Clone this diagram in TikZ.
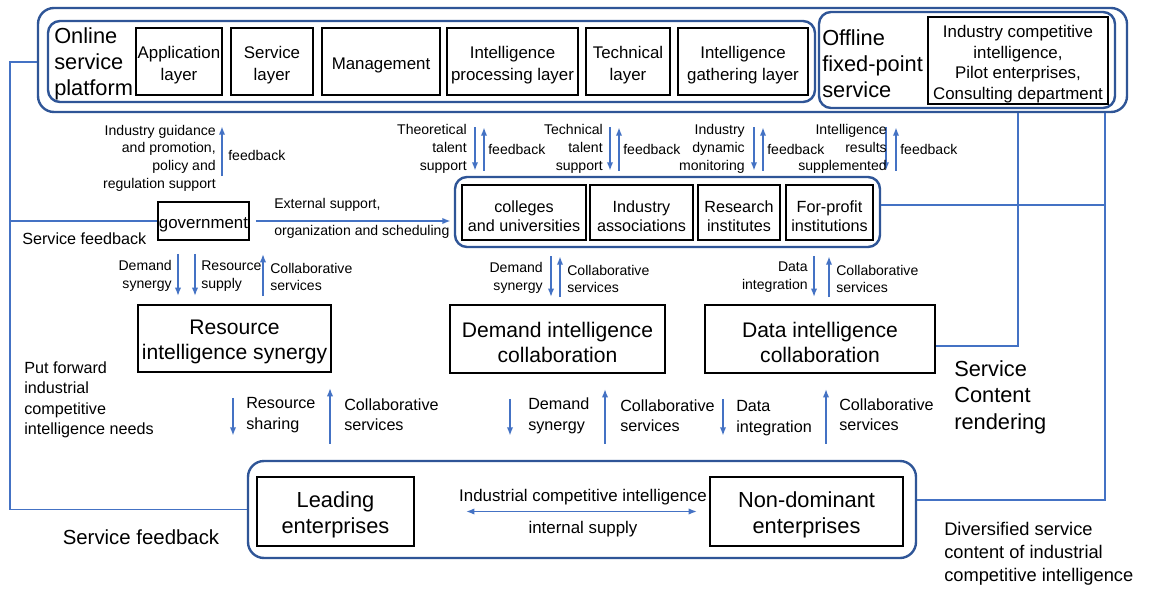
\documentclass[tikz,border=0pt]{standalone}
\usepackage{fontspec}
\setmainfont{Liberation Sans}
\usetikzlibrary{arrows.meta,fit,calc}
\definecolor{grpblue}{RGB}{47,85,151}
\definecolor{lineblue}{RGB}{68,114,196}
\newcommand\myfs[2]{\fontsize{#1}{#2}\selectfont}

\begin{document}
\begin{tikzpicture}[x=0.025cm,y=-0.025cm,
  blk/.style={draw=black,line width=1.3pt,inner sep=0pt},
  grp/.style={draw=grpblue,line width=1.7pt,rounded corners=#1,inner sep=0pt},
  grp/.default=0.3cm,
  btxt/.style={inner sep=0pt,align=center,yshift=-0.09cm,font=\myfs{12}{15}},
  conn/.style={draw=lineblue,line width=1.2pt},
  arr/.style={conn,-{Latex[length=6pt,width=4.5pt]}},
  dbl/.style={conn,{Latex[length=6pt,width=4.5pt]}-{Latex[length=6pt,width=4.5pt]}},
  small/.style={inner sep=0pt,font=\myfs{10}{12.6}},
  mid/.style={inner sep=0pt,font=\myfs{11.5}{14.5}},
  big/.style={inner sep=0pt,font=\myfs{15.5}{18.6}},
  ltxt/.style={anchor=east,align=right},
  rtxt/.style={anchor=west,align=left},
]
\fill[white] (0,0) rectangle (1152,590);
\useasboundingbox (0,0) rectangle (1152,590);

% ---------- service platforms ----------
\node[grp=0.4cm, fit={(38,8)(1127,112)}] (outer) {};
\node[grp, fit={(48,21)(815,102)}] (online) {};
\node[big, rtxt] (onlinet) at (54,64) {Online\\service\\platform};
\node[blk, fit={(136,28)(222,95)}] (app) {};
\node[btxt] at (app.center) {Application\\layer};
\node[blk, fit={(231,28)(313,95)}] (svc) {};
\node[btxt] at (svc.center) {Service\\layer};
\node[blk, fit={(322,28)(440,95)}] (mgmt) {};
\node[btxt] at (mgmt.center) {Management};
\node[blk, fit={(447,28)(578,95)}] (proc) {};
\node[btxt] at (proc.center) {Intelligence\\processing layer};
\node[blk, fit={(586,28)(670,95)}] (tech) {};
\node[btxt] at (tech.center) {Technical\\layer};
\node[blk, fit={(678,28)(808,95)}] (gath) {};
\node[btxt] at (gath.center) {Intelligence\\gathering layer};

\node[grp, fit={(819,12)(1115,108)}] (offline) {};
\node[big, rtxt] (offlinet) at (822,64) {Offline\\fixed-point\\service};
\node[blk, fit={(928,17)(1108,104)}] (ici) {};
\node[btxt, font=\myfs{12}{14.6}] at (ici.center)
  {Industry competitive\\intelligence,\\Pilot enterprises,\\Consulting department};

% ---------- government ----------
\node[blk, fit={(158,202)(249,240)}] (gov) {};
\node[btxt] at (gov.center) {government};

% ---------- institutions ----------
\node[grp, fit={(455,177)(880,247)}] (inst) {};
\node[blk, fit={(462,185)(586,240)}] (col) {};
\node[btxt, font=\myfs{11.5}{14}] at (col.center) {colleges\\and universities};
\node[blk, fit={(590,185)(693,240)}] (assoc) {};
\node[btxt, font=\myfs{11.5}{14}] at (assoc.center) {Industry\\associations};
\node[blk, fit={(698,185)(780,240)}] (res) {};
\node[btxt, font=\myfs{11.5}{14}] at (res.center) {Research\\institutes};
\node[blk, fit={(786,185)(873,240)}] (prof) {};
\node[btxt, font=\myfs{11.5}{14}] at (prof.center) {For-profit\\institutions};

% ---------- collaboration boxes ----------
\node[blk, fit={(138,305)(331,372)}] (ris) {};
\node[btxt, font=\myfs{15}{18}] at (ris.center) {Resource\\intelligence synergy};
\node[blk, fit={(450,305)(665,373)}] (dic) {};
\node[btxt, font=\myfs{15}{18}] at (dic.center) {Demand intelligence\\collaboration};
\node[blk, fit={(705,305)(935,373)}] (dac) {};
\node[btxt, font=\myfs{15}{18}] at (dac.center) {Data intelligence\\collaboration};

% ---------- enterprises ----------
\node[grp=0.4cm, fit={(248,461)(916,558)}] (bot) {};
\node[blk, fit={(257,477)(414,546)}] (lead) {};
\node[btxt, font=\myfs{15.5}{18.6}] at (lead.center) {Leading\\enterprises};
\node[blk, fit={(710,477)(903,546)}] (nondom) {};
\node[btxt, font=\myfs{15.5}{18.6}] at (nondom.center) {Non-dominant\\enterprises};

% ---------- feedback lines on the left ----------
\coordinate (lA) at (10,62);
\draw[conn] (lA -| outer.west) -- (lA) |- (bot.west);
\draw[conn] (gov.west) -- (gov.west -| lA);

% ---------- service lines on the right ----------
\coordinate (rA) at (1018,346);
\draw[conn] (outer.south -| rA) -- (rA) -- (rA -| dac.east);
\coordinate (rB) at (1105,500);
\draw[conn] (outer.south -| rB) -- (rB) -- (rB -| bot.east);
\coordinate (rC) at (1105,205);
\draw[conn] (rC -| inst.east) -- (rC);

% ---------- government links ----------
\coordinate (gA) at (222,0);
\draw[arr, shorten <=0.625cm, shorten >=0.325cm] (gov.north -| gA) -- (outer.south -| gA);
\node[small, rtxt] at (228,155) {feedback};
\node[small, ltxt] at (216,158) {Industry guidance\\and promotion,\\policy and\\regulation support};

\draw[arr, shorten <=0.15cm, shorten >=0.075cm] (gov.east) -- (gov.east -| inst.west);
\node[small, rtxt] at (274,205) {External support,};
\node[small, rtxt] at (274,232) {organization and scheduling};

\node[mid, rtxt] at (22,239) {Service feedback};

\foreach \x in {178,195}{
  \coordinate (gd) at (\x,0);
  \draw[arr, shorten <=0.325cm, shorten >=0.2cm] (gov.south -| gd) -- (ris.north -| gd);
}
\coordinate (gu) at (263,0);
\draw[arr, shorten <=0.2cm, shorten >=0.325cm] (ris.north -| gu) -- (gov.south -| gu);
\node[small, ltxt] at (172,276) {Demand\\synergy};
\node[small, rtxt] at (201,276) {Resource\\supply};
\node[small, rtxt] at (270,277) {Collaborative\\services};

% ---------- talent and feedback arrows above the institutions ----------
\foreach \d/\u in {475/484,610/619,754/763,886/896}{
  \coordinate (td) at (\d,0);
  \coordinate (tu) at (\u,0);
  \draw[arr, shorten <=0.35cm, shorten >=0.125cm] (outer.south -| td) -- (inst.north -| td);
  \draw[arr, shorten <=0.125cm, shorten >=0.35cm] (inst.north -| tu) -- (outer.south -| tu);
}
\node[small, ltxt] at (467,149) {Theoretical\\talent\\support};
\node[small, rtxt] at (488,149) {feedback};
\node[small, ltxt] at (603,149) {Technical\\talent\\support};
\node[small, rtxt] at (623,149) {feedback};
\node[small, ltxt] at (745,149) {Industry\\dynamic\\monitoring};
\node[small, rtxt] at (767,149) {feedback};
\node[small, ltxt] at (887,149) {Intelligence\\results\\supplemented};
\node[small, rtxt] at (900,149) {feedback};

% ---------- institutions to collaboration boxes ----------
\coordinate (iA) at (551,0);
\coordinate (iB) at (560,0);
\draw[arr, shorten <=0.2cm, shorten >=0.175cm] (inst.south -| iA) -- (dic.north -| iA);
\draw[arr, shorten <=0.175cm, shorten >=0.2cm] (dic.north -| iB) -- (inst.south -| iB);
\node[small, ltxt] at (543,278) {Demand\\synergy};
\node[small, rtxt] at (567,279) {Collaborative\\services};

\coordinate (iC) at (814,0);
\coordinate (iD) at (829,0);
\draw[arr, shorten <=0.2cm, shorten >=0.175cm] (inst.south -| iC) -- (dac.north -| iC);
\draw[arr, shorten <=0.175cm, shorten >=0.2cm] (dac.north -| iD) -- (inst.south -| iD);
\node[small, ltxt] at (808,277) {Data\\integration};
\node[small, rtxt] at (836,279) {Collaborative\\services};

% ---------- collaboration boxes to enterprises ----------
\foreach \d/\u/\bx in {233/330/ris,510/605/dic,723/826/dac}{
  \coordinate (bd) at (\d,0);
  \coordinate (bu) at (\u,0);
  \draw[arr, shorten <=0.625cm, shorten >=0.6cm] (\bx.south -| bd) -- (bot.north -| bd);
  \draw[arr, shorten <=0.4cm, shorten >=0.375cm] (bot.north -| bu) -- (\bx.south -| bu);
}
\node[mid, rtxt] at (246,415) {Resource\\sharing};
\node[mid, rtxt] at (344,415) {Collaborative\\services};
\node[mid, rtxt] at (528,416) {Demand\\synergy};
\node[mid, rtxt] at (620,416) {Collaborative\\services};
\node[mid, rtxt] at (736,418) {Data\\integration};
\node[mid, rtxt] at (839,415) {Collaborative\\services};

\node[mid, rtxt, font=\myfs{11.5}{14.6}] at (24,400) {Put forward\\industrial\\competitive\\intelligence needs};
\node[big, rtxt, font=\myfs{15.5}{18.8}] at (954,397) {Service\\Content\\rendering};

% ---------- enterprise exchange ----------
\draw[dbl, shorten <=1.275cm, shorten >=0.3cm] (lead.east) -- (nondom.west);
\node[inner sep=0pt, font=\myfs{12}{14}] at (583,497) {Industrial competitive intelligence};
\node[inner sep=0pt, font=\myfs{12}{14}] at (583,529) {internal supply};

\node[inner sep=0pt, font=\myfs{14.5}{17}] at (141,537) {Service feedback};
\node[rtxt, inner sep=0pt, font=\myfs{13}{16.4}] at (944,554) {Diversified service\\content of industrial\\competitive intelligence};
\end{tikzpicture}
\end{document}
